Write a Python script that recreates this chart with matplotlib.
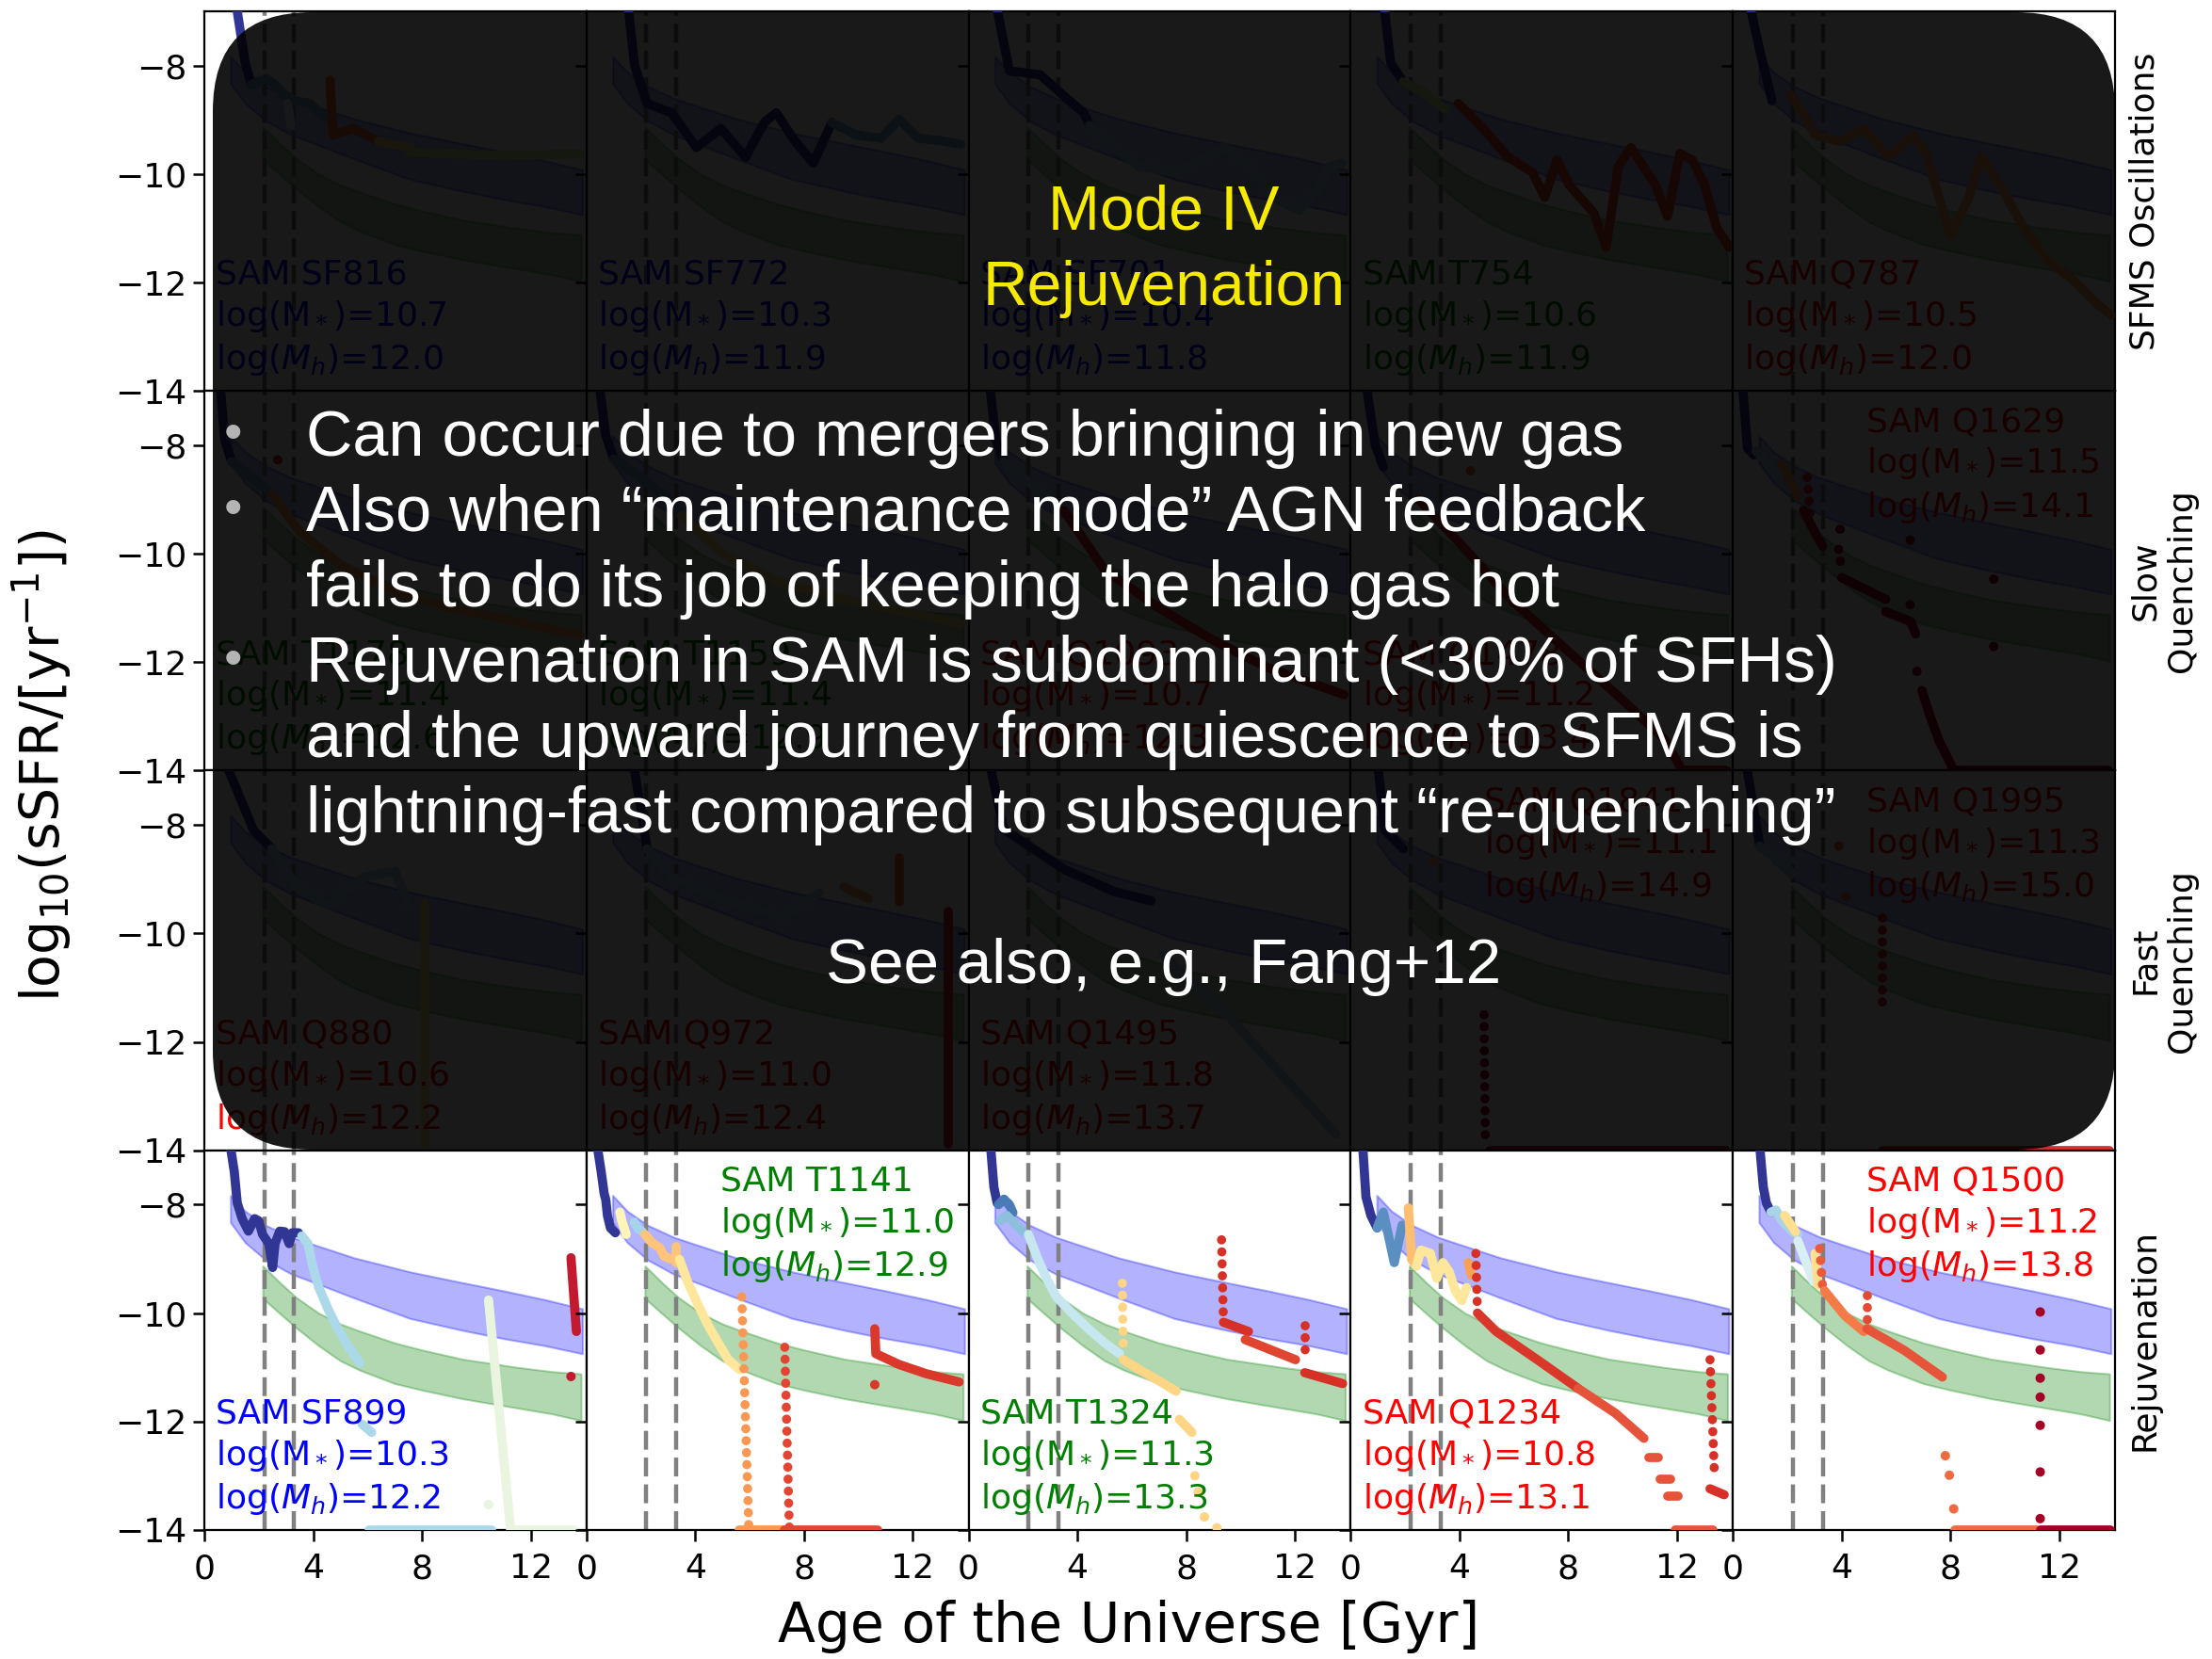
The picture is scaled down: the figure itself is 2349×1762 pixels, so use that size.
import matplotlib
matplotlib.use("Agg")
import matplotlib.pyplot as plt
from matplotlib.patches import FancyBboxPatch
import matplotlib.transforms as mtransforms

W, H, DPI = 2349, 1762, 100

# ---------------------------------------------------------------- bands
sfms_t = [0.96, 1.5, 2.25, 3.2, 4.1, 5.5, 7.56, 9.5, 11.0, 12.5, 13.9]
sfms_hi = [-7.83, -8.12, -8.38, -8.6, -8.75, -8.98, -9.24, -9.44, -9.59, -9.75, -9.92]
sfms_lo = [-8.33, -8.7, -9.02, -9.28, -9.45, -9.72, -10.1, -10.32, -10.47, -10.6, -10.75]

gv_t = [2.15, 2.8, 3.4, 4.2, 5.0, 5.7, 7.0, 8.0, 9.5, 11.5, 12.8, 13.85]
gv_hi = [-9.13, -9.45, -9.72, -10.0, -10.2, -10.33, -10.55, -10.68, -10.85, -11.0, -11.08, -11.12]
gv_lo = [-9.73, -10.02, -10.28, -10.6, -10.88, -11.05, -11.3, -11.42, -11.58, -11.75, -11.86, -11.98]

# redshift markers (z = 3 and z = 2)
z_lines = [2.2, 3.3]

# ---------------------------------------------------------------- galaxy labels
names = [["SAM SF816", "SAM SF772", "SAM SF701", "SAM T754", "SAM Q787"],
         ["SAM T1178", "SAM T1159", "SAM Q1093", "SAM Q1478", "SAM Q1629"],
         ["SAM Q880", "SAM Q972", "SAM Q1495", "SAM Q1841", "SAM Q1995"],
         ["SAM SF899", "SAM T1141", "SAM T1324", "SAM Q1234", "SAM Q1500"]]
log_mstar = [[10.7, 10.3, 10.4, 10.6, 10.5],
             [11.4, 11.4, 10.7, 11.2, 11.5],
             [10.6, 11.0, 11.8, 11.1, 11.3],
             [10.3, 11.0, 11.3, 10.8, 11.2]]
log_mhalo = [[12.0, 11.9, 11.8, 11.9, 12.0],
             [12.6, 12.9, 12.3, 13.4, 14.1],
             [12.2, 12.4, 13.7, 14.9, 15.0],
             [12.2, 12.9, 13.3, 13.1, 13.8]]
label_colors = [["blue", "blue", "blue", "green", "red"],
                ["green", "green", "red", "red", "red"],
                ["red", "red", "red", "red", "red"],
                ["blue", "green", "green", "red", "red"]]
label_corner = [["ll", "ll", "ll", "ll", "ll"],
                ["ll", "ll", "ll", "ll", "ur"],
                ["ll", "ll", "ll", "ur", "ur"],
                ["ll", "ur", "ll", "ll", "ur"]]
row_titles = ["SFMS Oscillations", "Slow\nQuenching", "Fast\nQuenching", "Rejuvenation"]

# ---------------------------------------------------------------- tracks
# each segment: (kind, colour, ages [Gyr], log sSFR)
# kind: 'line' = dense run of snapshots, 'dots' = evenly spaced snapshots, 'pts' = single snapshots
SF816 = [
    ("line", "#313695", [1.21, 1.5, 1.73], [-7.0, -7.95, -8.35]),
    ("line", "#74add1", [1.73, 2.25, 2.6, 2.94, 3.29, 3.87, 4.45], [-8.35, -8.24, -8.35, -8.53, -8.64, -8.7, -8.96]),
    ("line", "#e0f3f8", [3.06, 3.18], [-8.7, -9.1]),
    ("line", "#f46d43", [4.62, 4.73, 5.48, 6.41], [-8.27, -9.28, -9.16, -9.4]),
    ("line", "#fee090", [6.41, 7.56], [-9.4, -9.51]),
    ("line", "#d9ef8b", [7.56, 11.03, 13.8], [-9.6, -9.66, -9.63]),
]
SF772 = [
    ("line", "#313695", [1.55, 1.77, 2.23, 3.13, 4.04, 4.94, 5.85, 6.53, 6.98, 7.66, 8.34, 9.02],
     [-7.0, -8.0, -8.7, -8.87, -9.51, -9.16, -9.69, -9.05, -8.87, -9.39, -9.8, -9.05]),
    ("line", "#74add1", [9.02, 9.92, 10.83, 11.5, 12.2, 13.1, 13.76], [-9.05, -9.28, -9.34, -8.99, -9.34, -9.39, -9.45]),
]
SF701 = [
    ("line", "#313695", [1.06, 1.5, 2.63, 3.55, 4.23, 4.45], [-7.0, -8.1, -8.17, -8.58, -8.87, -9.1]),
    ("line", "#abd9e9", [4.45, 5.36, 6.26, 7.62, 8.52, 9.43, 10.33, 11.24, 12.14, 12.82, 13.27, 13.72],
     [-9.1, -9.51, -9.86, -9.97, -9.74, -9.51, -9.86, -10.44, -10.67, -10.32, -9.86, -9.8]),
]
T754 = [
    ("line", "#313695", [1.25, 1.47, 1.93], [-7.0, -7.95, -8.3]),
    ("line", "#d9ef8b", [1.93, 2.6, 3.5], [-8.3, -8.47, -8.82]),
    ("line", "#e34a33", [3.96, 4.87, 5.77, 6.68, 7.13, 7.58, 8.03, 8.94, 9.39, 9.84, 10.3, 11.2, 11.65, 12.1, 12.56,
                         13.01, 13.46, 13.91],
     [-8.7, -9.16, -9.68, -9.97, -10.43, -9.74, -10.2, -10.72, -11.35, -9.86, -9.51, -10.2, -10.78, -9.62, -9.74,
      -10.2, -11.0, -11.35]),
]
Q787 = [
    ("line", "#313695", [0.67, 0.99, 1.44], [-7.0, -7.72, -8.65]),
    ("line", "#fdae61", [2.12, 2.57, 3.02, 3.93, 4.83, 5.74, 6.64, 7.1, 8.0, 8.68, 9.13, 9.81, 10.7, 11.6, 12.5, 13.4,
                         13.9],
     [-8.54, -8.88, -9.28, -9.4, -9.16, -9.68, -9.28, -9.62, -11.13, -10.43, -9.68, -10.2, -11.0, -11.6, -11.95,
      -12.4, -12.6]),
]
T1178 = [
    ("line", "#313695", [0.6, 0.75, 1.0], [-7.0, -7.9, -8.3]),
    ("line", "#74add1", [1.0, 1.5, 2.0, 2.5], [-8.3, -8.5, -8.7, -8.9]),
    ("pts", "#d73027", [2.7], [-8.27]),
    ("line", "#fdae61", [2.5, 3.5, 5.0, 7.0, 9.0, 11.0, 13.8], [-8.9, -9.6, -10.2, -10.7, -11.0, -11.2, -11.5]),
]
T1159 = [
    ("line", "#313695", [0.5, 0.7, 1.0], [-7.0, -7.8, -8.25]),
    ("line", "#74add1", [1.0, 2.0, 3.0, 3.5], [-8.25, -8.6, -9.0, -9.3]),
    ("line", "#fee090", [3.5, 5.0, 7.0, 9.0, 11.0, 13.8], [-9.3, -10.0, -10.5, -10.8, -11.0, -11.3]),
]
Q1093 = [
    ("line", "#313695", [0.8, 1.0, 1.3], [-7.0, -7.9, -8.3]),
    ("line", "#abd9e9", [1.3, 2.5, 3.5], [-8.3, -8.8, -9.2]),
    ("line", "#d73027", [3.5, 5.0, 7.0, 9.0, 11.0, 13.8], [-9.2, -10.3, -11.0, -11.6, -12.1, -12.6]),
]
Q1478 = [
    ("line", "#313695", [0.6, 0.9, 1.2], [-7.0, -8.0, -8.4]),
    ("pts", "#f46d43", [4.4], [-8.47]),
    ("line", "#d73027", [2.5, 4.0, 6.0, 8.0, 10.0, 11.5, 12.2], [-9.0, -9.8, -10.9, -11.8, -12.7, -13.4, -14.0]),
    ("line", "#d73027", [12.2, 13.8], [-14.0, -14.0]),
]
Q1629 = [
    ("line", "#313695", [0.37, 0.54, 0.77], [-7.0, -8.06, -8.18]),
    ("line", "#abd9e9", [0.85, 1.2, 1.5, 1.8], [-8.1, -8.3, -8.5, -8.6]),
    ("line", "#fdae61", [1.81, 2.39], [-8.35, -8.93]),
    ("dots", "#d73027", [2.73, 2.85], [-8.59, -9.34]),
    ("line", "#b2182b", [2.6, 2.9, 3.3], [-9.2, -9.5, -9.86]),
    ("pts", "#a50026", [3.94, 6.52, 6.52, 9.59, 9.59, 6.77], [-9.55, -9.75, -10.94, -10.47, -11.71, -12.17]),
    ("dots", "#a50026", [3.89, 4.0], [-9.92, -10.32]),
    ("line", "#a50026", [4.0, 5.62], [-10.44, -10.84]),
    ("line", "#a50026", [5.62, 6.54, 6.72], [-11.07, -11.25, -11.48]),
    ("line", "#a50026", [6.95, 7.24, 7.58, 8.04], [-12.52, -12.98, -13.45, -13.91]),
    ("line", "#a50026", [8.04, 13.82], [-14.0, -14.0]),
]
Q880 = [
    ("line", "#313695", [0.9, 1.81, 2.49], [-7.0, -8.1, -8.44]),
    ("line", "#abd9e9", [2.49, 3.39, 4.52, 5.88, 7.01, 7.47], [-8.44, -9.14, -9.48, -8.96, -8.85, -9.42]),
    ("line", "#fee090", [8.1, 8.1], [-9.45, -13.9]),
]
Q972 = [
    ("line", "#313695", [1.77, 2.23], [-7.0, -8.44]),
    ("line", "#abd9e9", [2.23, 3.13, 4.94, 7.2, 8.56], [-8.44, -8.96, -9.36, -9.71, -9.25]),
    ("line", "#fdae61", [9.46, 10.37], [-9.14, -9.36]),
    ("line", "#f46d43", [11.5, 11.5], [-8.6, -9.42]),
    ("line", "#d73027", [13.3, 13.3], [-9.59, -13.88]),
]
Q1495 = [
    ("line", "#313695", [0.83, 1.29, 3.55, 5.36, 6.71], [-7.0, -8.08, -8.83, -9.23, -9.4]),
    ("line", "#abd9e9", [7.17, 9.5, 11.5, 13.5], [-10.4, -11.5, -12.6, -13.7]),
]
Q1841 = [
    ("line", "#313695", [1.02, 1.25, 1.93], [-7.0, -8.09, -8.44]),
    ("pts", "#fdae61", [3.06], [-8.67]),
    ("dots", "#a50026", [4.9, 4.95], [-11.5, -13.8]),
    ("line", "#b2182b", [5.1, 13.8], [-14.0, -14.0]),
]
Q1995 = [
    ("line", "#313695", [0.53, 0.99], [-7.0, -8.39]),
    ("line", "#abd9e9", [0.99, 1.5, 2.2], [-8.39, -8.6, -8.9]),
    ("pts", "#f46d43", [3.9, 4.15], [-8.39, -9.32]),
    ("dots", "#d73027", [5.5, 5.5], [-9.72, -11.46]),
    ("line", "#d73027", [5.5, 13.85], [-14.0, -14.0]),
]
SF899 = [
    ("line", "#313695", [0.98, 1.1, 1.21, 1.39, 1.62, 1.85, 2.0, 2.14, 2.37, 2.51, 2.6, 2.77, 2.95, 3.12, 3.23, 3.46],
     [-7.0, -7.39, -7.97, -8.26, -8.49, -8.26, -8.3, -8.55, -8.72, -9.16, -8.72, -8.49, -8.5, -8.72, -8.52, -8.52]),
    ("line", "#abd9e9", [3.58, 3.81, 3.98, 4.21, 4.56, 4.91, 5.25, 5.72],
     [-8.58, -8.72, -9.13, -9.53, -9.94, -10.29, -10.58, -10.92]),
    ("line", "#abd9e9", [5.8, 6.15], [-12.05, -12.2]),
    ("line", "#abd9e9", [6.06, 10.57], [-14.0, -14.0]),
    ("line", "#e9f5df", [10.45, 11.26, 13.57], [-9.76, -14.0, -14.0]),
    ("pts", "#e9f5df", [10.45], [-13.53]),
    ("line", "#c41a30", [13.48, 13.68], [-8.98, -10.34]),
    ("pts", "#c41a30", [13.48], [-11.17]),
]
T1141 = [
    ("line", "#313695", [0.42, 0.54, 0.65, 0.71, 0.77, 0.88, 1.06], [-7.0, -7.39, -7.8, -7.91, -8.2, -8.43, -8.52]),
    ("line", "#fef6b8", [1.23, 1.3, 1.46], [-8.14, -8.3, -8.55]),
    ("line", "#a6d4ec", [1.75, 1.9, 2.04], [-8.32, -8.45, -8.49]),
    ("line", "#fdc47a", [2.15, 2.4, 2.7, 2.85, 3.08], [-8.55, -8.7, -8.8, -8.95, -9.0]),
    ("line", "#fdc47a", [3.31, 3.31], [-8.78, -9.07]),
    ("line", "#fee79b", [3.42, 3.7, 4.1, 4.5, 4.81, 5.2, 5.62], [-9.01, -9.4, -9.85, -10.25, -10.52, -10.85, -11.04]),
    ("dots", "#f99853", [5.71, 5.97], [-9.7, -14.0]),
    ("line", "#f99853", [5.62, 7.29], [-14.0, -14.0]),
    ("dots", "#e34532", [7.29, 7.46], [-10.63, -14.0]),
    ("line", "#e34532", [7.29, 10.7], [-14.0, -14.0]),
    ("line", "#d9382a", [10.6, 10.64, 11.5, 12.5, 13.7], [-10.29, -10.75, -10.95, -11.12, -11.27]),
    ("pts", "#d9382a", [10.6], [-11.32]),
]
T1324 = [
    ("line", "#313695", [0.82, 0.93, 1.05], [-7.0, -7.68, -7.97]),
    ("line", "#4a7bb7", [1.1, 1.3, 1.5, 1.63], [-8.0, -7.9, -8.0, -8.15]),
    ("line", "#8cc0dd", [1.16, 1.4, 1.8, 2.0], [-8.3, -8.2, -8.4, -8.5]),
    ("line", "#c6e6f0", [2.2, 2.55, 2.9, 3.24, 3.8, 4.4, 5.0, 5.55],
     [-8.55, -9.01, -9.4, -9.71, -10.0, -10.29, -10.55, -10.75]),
    ("dots", "#fed584", [5.65, 5.69], [-9.45, -10.75]),
    ("line", "#fed584", [5.69, 6.3, 7.0, 7.63], [-10.86, -11.05, -11.25, -11.44]),
    ("line", "#fed584", [7.75, 8.21], [-11.96, -12.2]),
    ("pts", "#fed584", [8.32, 8.44, 8.67, 9.13], [-13.0, -13.3, -13.76, -13.96]),
    ("dots", "#d73027", [9.3, 9.37], [-8.65, -10.17]),
    ("line", "#d73027", [9.37, 10.29], [-10.17, -10.34]),
    ("line", "#e04530", [10.17, 12.02], [-10.49, -10.86]),
    ("dots", "#d73027", [12.36, 12.36], [-10.23, -10.9]),
    ("line", "#d73027", [12.36, 13.75], [-11.1, -11.3]),
]
Q1234 = [
    ("line", "#313695", [0.45, 0.56, 0.74, 0.97], [-7.0, -7.86, -8.2, -8.43]),
    ("line", "#5b8fc2", [0.97, 1.2, 1.6, 1.89], [-8.43, -8.14, -9.07, -8.38]),
    ("line", "#fdbf6f", [2.12, 2.24, 2.41], [-8.06, -9.01, -9.13]),
    ("line", "#fee79b", [2.41, 2.58, 2.93, 3.16, 3.39, 3.62, 3.85, 4.08, 4.26],
     [-9.13, -8.84, -8.9, -9.36, -9.07, -9.24, -9.59, -9.77, -9.53]),
    ("line", "#f9a05a", [4.32, 4.43], [-9.07, -9.3]),
    ("dots", "#d73027", [4.6, 4.66], [-8.9, -10.0]),
    ("line", "#d9372a", [4.66, 5.35, 6.86, 8.36], [-10.0, -10.34, -10.86, -11.39]),
    ("line", "#e5533a", [8.36, 9.74, 10.78], [-11.39, -11.85, -12.31]),
    ("line", "#e5533a", [10.95, 11.3], [-12.66, -12.66]),
    ("line", "#e5533a", [11.36, 11.76], [-13.06, -13.06]),
    ("line", "#e5533a", [11.65, 12.05], [-13.38, -13.38]),
    ("line", "#e5533a", [11.94, 13.32], [-14.0, -14.0]),
    ("dots", "#d73027", [13.21, 13.38], [-10.86, -13.06]),
    ("line", "#d73027", [13.21, 13.73], [-13.24, -13.35]),
]
Q1500 = [
    ("line", "#313695", [1.0, 1.12, 1.23, 1.4], [-7.0, -7.68, -7.97, -8.14]),
    ("line", "#a9d3e6", [1.4, 1.58, 1.8, 2.0, 2.2, 2.39], [-8.14, -8.1, -8.3, -8.4, -8.5, -8.55]),
    ("line", "#fee090", [1.9, 2.1, 2.3], [-8.2, -8.35, -8.5]),
    ("line", "#d8eef2", [2.39, 2.96], [-8.67, -9.42]),
    ("line", "#fee090", [3.02, 3.14], [-8.9, -9.48]),
    ("dots", "#ec5a3c", [3.19, 3.31], [-8.81, -9.59]),
    ("line", "#f47a48", [3.37, 4.12, 4.81], [-9.59, -10.05, -10.34]),
    ("dots", "#e34a33", [4.93, 4.93], [-9.68, -10.23]),
    ("line", "#e65539", [4.93, 6.31, 7.7], [-10.29, -10.69, -11.18]),
    ("pts", "#ee6a40", [7.81, 7.96, 8.12], [-12.63, -12.99, -13.61]),
    ("line", "#ee6a40", [8.16, 11.16], [-14.0, -14.0]),
    ("pts", "#a50026", [11.3] * 7, [-9.98, -10.68, -11.2, -11.55, -12.07, -12.93, -13.79]),
    ("line", "#a50026", [11.3, 13.88], [-14.0, -14.0]),
]
tracks = [[SF816, SF772, SF701, T754, Q787],
          [T1178, T1159, Q1093, Q1478, Q1629],
          [Q880, Q972, Q1495, Q1841, Q1995],
          [SF899, T1141, T1324, Q1234, Q1500]]

# ---------------------------------------------------------------- slide text
slide_title = ["Mode IV", "Rejuvenation"]
slide_lines = ["Can occur due to mergers bringing in new gas",
               "Also when \u201cmaintenance mode\u201d AGN feedback",
               "fails to do its job of keeping the halo gas hot",
               "Rejuvenation in SAM is subdominant (<30% of SFHs)",
               "and the upward journey from quiescence to SFMS is",
               "lightning-fast compared to subsequent \u201cre-quenching\u201d"]
slide_bullets = [0, 1, 3]
slide_note = "See also, e.g., Fang+12"

# ---------------------------------------------------------------- figure
plt.rcParams["font.family"] = ["DejaVu Sans"]
plt.rcParams["mathtext.fontset"] = "dejavusans"

fig = plt.figure(figsize=(W / DPI, H / DPI), dpi=DPI)
gs = fig.add_gridspec(4, 5, left=217 / W, right=2246 / W, top=1 - 12 / H, bottom=1 - 1625 / H,
                      wspace=0, hspace=0)

TRACK_LW = 7.0


def draw_segment(ax, kind, color, t, y):
    if kind == "line":
        ax.plot(t, y, color=color, lw=TRACK_LW, solid_capstyle="round", solid_joinstyle="round", zorder=3)
    elif kind == "dots":
        ax.plot(t, y, color=color, lw=TRACK_LW, ls=(0, (0.01, 1.3)), dash_capstyle="round", zorder=3)
    else:
        ax.scatter(t, y, s=52, color=color, edgecolors="none", zorder=3)


for r in range(4):
    for c in range(5):
        ax = fig.add_subplot(gs[r, c])
        ax.fill_between(sfms_t, sfms_lo, sfms_hi, color="blue", alpha=0.3, lw=1.5, zorder=1)
        ax.fill_between(gv_t, gv_lo, gv_hi, color="green", alpha=0.3, lw=1.5, zorder=1)
        for zt in z_lines:
            ax.axvline(zt, color="gray", lw=3.2, ls=(0, (4.5, 1.9)), zorder=2)
        for kind, color, t, y in tracks[r][c]:
            draw_segment(ax, kind, color, t, y)

        label = (f"{names[r][c]}\nlog(M$_*$)={log_mstar[r][c]:.1f}\n"
                 f"log($M_h$)={log_mhalo[r][c]:.1f}")
        if label_corner[r][c] == "ll":
            ax.text(0.03, 0.035, label, transform=ax.transAxes, ha="left", va="bottom",
                    color=label_colors[r][c], fontsize=26, linespacing=1.28, zorder=4)
        else:
            ax.text(0.35, 0.96, label, transform=ax.transAxes, ha="left", va="top",
                    color=label_colors[r][c], fontsize=26, linespacing=1.28, zorder=4)

        ax.set_xlim(0, 14.05)
        ax.set_ylim(-14, -7)
        ax.set_xticks([0, 4, 8, 12])
        ax.set_yticks([-8, -10, -12, -14])
        ax.tick_params(direction="out", length=8.5, width=1.8, labelsize=26, pad=5)
        ax.tick_params(axis="x", pad=9)
        ax.tick_params(labelleft=(c == 0), labelbottom=(r == 3))
        for sp in ax.spines.values():
            sp.set_linewidth(1.6)

for r, title in enumerate(row_titles):
    yc = 1 - (12 + 403.25 * (r + 0.5)) / H
    fig.text(2261 / W, yc, title, rotation=90, ha="left", va="center", multialignment="center",
             fontsize=26)

fig.text(45 / W, 1 - 813 / H, r"log$_{10}$(sSFR/[yr$^{-1}$])", rotation=90, ha="center", va="center",
         fontsize=41)
fig.text(1199 / W, 1 - 1728 / H, "Age of the Universe [Gyr]", ha="center", va="center", fontsize=42)

# dark slide panel laid over the upper three rows
box = FancyBboxPatch((226, H - 1221), 2246 - 226, 1221 - 13,
                     boxstyle="round,pad=0,rounding_size=105",
                     transform=mtransforms.IdentityTransform(),
                     facecolor="black", edgecolor="none", alpha=0.9, zorder=10)
fig.add_artist(box)

slide_font = ["Liberation Sans", "DejaVu Sans"]
fig.text(1236 / W, 1 - 243 / H, slide_title[0], ha="center", va="baseline", fontsize=47.5,
         color="#f5ea00", family=slide_font, zorder=11)
fig.text(1236 / W, 1 - 324 / H, slide_title[1], ha="center", va="baseline", fontsize=47.5,
         color="#f5ea00", family=slide_font, zorder=11)
for i, line in enumerate(slide_lines):
    yb = 484 + 80 * i
    fig.text(325 / W, 1 - yb / H, line, ha="left", va="baseline", fontsize=49.2,
             color="white", family=slide_font, zorder=11)
    if i in slide_bullets:
        fig.text(248 / W, 1 - (yb - 21) / H, "\u2022", ha="center", va="center", fontsize=40,
                 color="#b4b4b4", family=slide_font, zorder=11)
fig.text(1236 / W, 1 - 1044 / H, slide_note, ha="center", va="baseline", fontsize=48.5,
         color="white", family=slide_font, zorder=11)

fig.savefig("out.png", dpi=DPI)
